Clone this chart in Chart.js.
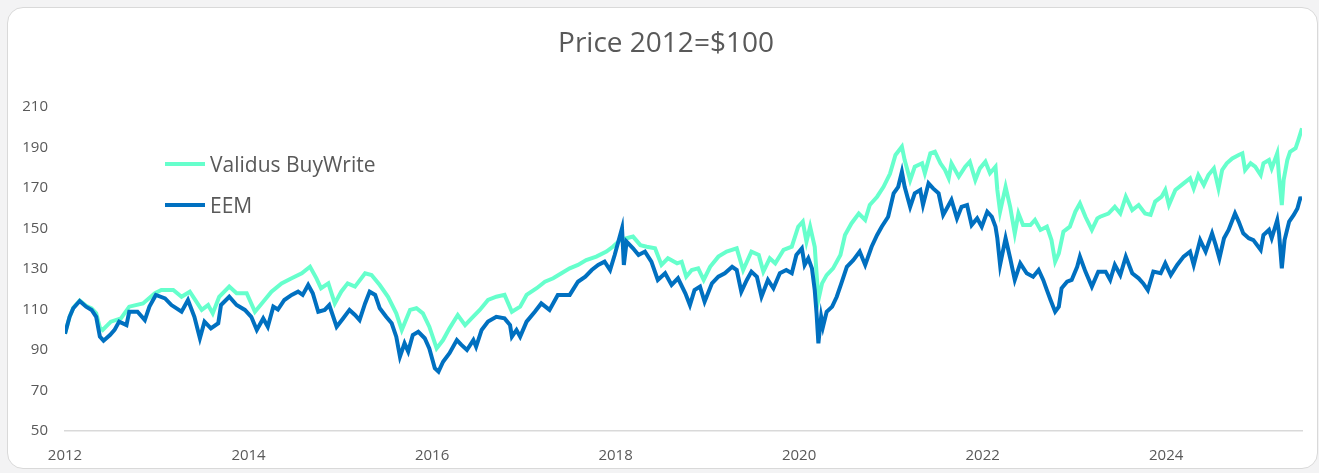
<!DOCTYPE html>
<html>
<head>
<meta charset="utf-8">
<title>Price 2012=$100</title>
<script src="https://cdn.jsdelivr.net/npm/chart.js@4.4.1/dist/chart.umd.min.js"></script>
<style>
  html, body { margin: 0; padding: 0; background: #f3f3f4; }
  #card {
    position: absolute; left: 7px; top: 7px; width: 1311px; height: 462px;
    box-sizing: border-box; border: 1px solid #d9d9d9; border-radius: 16px;
    background: #fff; overflow: hidden;
  }
  #wrap { position: absolute; left: 0; top: 0; width: 1309px; height: 460px; }
</style>
</head>
<body>
<div id="card"><div id="wrap"><canvas id="priceChart"></canvas></div></div>
<script>
// valori (anno decimale, prezzo con base 2012 = 100)
const validusDates = [
  2012.00, 2012.05, 2012.09, 2012.16, 2012.23, 2012.29, 2012.34, 2012.38, 2012.41, 2012.50, 2012.61, 2012.70, 2012.85, 2012.98,
  2013.05, 2013.18, 2013.27, 2013.36, 2013.49, 2013.56, 2013.61, 2013.68, 2013.79, 2013.87, 2013.98,
  2014.07, 2014.16, 2014.25, 2014.36, 2014.47, 2014.58, 2014.67, 2014.74, 2014.79, 2014.87, 2014.94,
  2015.01, 2015.08, 2015.16, 2015.27, 2015.34, 2015.43, 2015.52, 2015.61, 2015.67, 2015.76, 2015.83, 2015.90, 2015.97,
  2016.05, 2016.12, 2016.19, 2016.28, 2016.36, 2016.43, 2016.52, 2016.61, 2016.70, 2016.79, 2016.87, 2016.96,
  2017.03, 2017.14, 2017.23, 2017.32, 2017.41, 2017.50, 2017.59, 2017.68, 2017.79, 2017.90, 2017.97,
  2018.05, 2018.12, 2018.19, 2018.27, 2018.34, 2018.43, 2018.50, 2018.57, 2018.67, 2018.72, 2018.77, 2018.83, 2018.90, 2018.96,
  2019.03, 2019.12, 2019.21, 2019.32, 2019.39, 2019.48, 2019.56, 2019.61, 2019.68, 2019.74, 2019.83, 2019.92, 2019.99,
  2020.04, 2020.08, 2020.12, 2020.17, 2020.21, 2020.25, 2020.30, 2020.37, 2020.45, 2020.50, 2020.57, 2020.65, 2020.72, 2020.77, 2020.85, 2020.92, 2020.99,
  2021.05, 2021.12, 2021.15, 2021.21, 2021.26, 2021.34, 2021.37, 2021.43, 2021.48, 2021.54, 2021.59, 2021.63, 2021.66, 2021.74, 2021.81, 2021.86, 2021.92, 2021.97,
  2022.03, 2022.08, 2022.14, 2022.16, 2022.19, 2022.25, 2022.30, 2022.35, 2022.39, 2022.44, 2022.52, 2022.57, 2022.63, 2022.70, 2022.75, 2022.79, 2022.83, 2022.88, 2022.95,
  2023.01, 2023.06, 2023.12, 2023.19, 2023.25, 2023.28, 2023.37, 2023.44, 2023.50, 2023.56, 2023.63, 2023.70, 2023.77, 2023.83, 2023.88, 2023.95, 2023.99,
  2024.03, 2024.10, 2024.19, 2024.26, 2024.30, 2024.35, 2024.41, 2024.46, 2024.52, 2024.57, 2024.61, 2024.66, 2024.72, 2024.79, 2024.83, 2024.86, 2024.92, 2024.97,
  2025.03, 2025.06, 2025.12, 2025.15, 2025.21, 2025.23, 2025.26, 2025.28, 2025.32, 2025.35, 2025.41, 2025.44, 2025.48
];
const validusValues = [
  98, 106.4, 110.8, 114.4, 111.8, 110.5, 108.2, 101, 99.9, 104, 105.6, 111.4, 113, 118,
  119.6, 119.6, 116.3, 118.8, 109.8, 112.2, 108.1, 116.3, 121.3, 118, 118,
  108.9, 113.8, 118.8, 122.9, 125.4, 127.9, 131.1, 125.4, 120.5, 122.9, 113,
  118.8, 122.9, 121.3, 127.9, 127, 122.1, 116.3, 108.1, 99.9, 109.8, 110.6, 108.1, 101.5,
  90.8, 94.9, 100.7, 107.3, 102.3, 105.6, 109.8, 114.7, 116.3, 117.2, 108.9, 111.4,
  117.2, 120.5, 123.7, 125.4, 127.9, 130.3, 132, 134.4, 136.1, 138.6, 141,
  144.3, 145.2, 146, 141.8, 141, 140.2, 132, 135.3, 132.8, 133.6, 126.2, 129.5, 130.3, 124.6,
  131.1, 136.1, 138.6, 140.2, 129.5, 138.6, 136.9, 128.7, 135.3, 132.8, 139.4, 141, 150.9,
  153.4, 143.5, 150.9, 141, 114.7, 122.9, 127, 130.3, 136.9, 146.8, 152.5, 157.4, 154.2, 161.6, 165.7, 170.6, 177,
  186.3, 190.4, 183.8, 173.9, 180.5, 182.2, 177.3, 187.1, 187.9, 182.2, 178.9, 174.8, 182.2, 175.6, 180.5, 183, 173.9, 179.7,
  183, 177.3, 180.5, 169, 158.3, 170.6, 160.7, 147.6, 157.4, 151.7, 151.7, 154.2, 149.3, 150.9, 144.3, 133.6, 137.7, 148.4, 150.9,
  158.3, 162.4, 155.8, 149.3, 155, 155.8, 157.4, 160.7, 157.4, 165.7, 159.1, 161.6, 157.4, 156.7, 163.3, 165.7, 169,
  161.6, 169, 172.3, 174.8, 169.8, 176.4, 171.5, 176.4, 179.7, 169.8, 178.9, 182.2, 184.6, 186.3, 187.1, 178.9, 182.2, 180.5,
  176.4, 182.2, 183.8, 179.7, 187.1, 175.6, 161.6, 174, 183.8, 187.9, 189.6, 193.7, 199.5
];

const eemDates = [
  2012.00, 2012.05, 2012.09, 2012.16, 2012.23, 2012.29, 2012.34, 2012.38, 2012.42, 2012.49, 2012.54, 2012.59, 2012.67, 2012.70, 2012.79, 2012.87, 2012.92, 2012.99,
  2013.09, 2013.16, 2013.27, 2013.34, 2013.41, 2013.47, 2013.52, 2013.59, 2013.67, 2013.70, 2013.79, 2013.87, 2013.96,
  2014.03, 2014.09, 2014.16, 2014.21, 2014.27, 2014.32, 2014.39, 2014.47, 2014.54, 2014.59, 2014.65, 2014.70, 2014.76, 2014.83, 2014.88, 2014.96,
  2015.03, 2015.10, 2015.16, 2015.21, 2015.27, 2015.32, 2015.38, 2015.43, 2015.50, 2015.56, 2015.61, 2015.65, 2015.70, 2015.74, 2015.79, 2015.85, 2015.92, 2015.97,
  2016.03, 2016.07, 2016.12, 2016.19, 2016.27, 2016.32, 2016.38, 2016.45, 2016.48, 2016.54, 2016.61, 2016.70, 2016.79, 2016.85, 2016.87, 2016.92, 2016.96,
  2017.03, 2017.12, 2017.19, 2017.28, 2017.37, 2017.50, 2017.59, 2017.67, 2017.74, 2017.81, 2017.88, 2017.94, 2017.99,
  2018.04, 2018.07, 2018.09, 2018.12, 2018.19, 2018.25, 2018.32, 2018.39, 2018.46, 2018.54, 2018.61, 2018.68, 2018.76, 2018.81, 2018.86, 2018.92, 2018.97,
  2019.05, 2019.12, 2019.19, 2019.27, 2019.32, 2019.37, 2019.43, 2019.48, 2019.54, 2019.59, 2019.66, 2019.72, 2019.79, 2019.86, 2019.92, 2019.97,
  2020.03, 2020.06, 2020.10, 2020.14, 2020.17, 2020.19, 2020.21, 2020.24, 2020.26, 2020.30, 2020.36, 2020.41, 2020.46, 2020.52, 2020.59, 2020.66, 2020.72, 2020.79, 2020.85, 2020.90, 2020.97,
  2021.03, 2021.08, 2021.12, 2021.15, 2021.21, 2021.26, 2021.32, 2021.35, 2021.41, 2021.46, 2021.52, 2021.57, 2021.63, 2021.66, 2021.72, 2021.77, 2021.83, 2021.88, 2021.94, 2021.99,
  2022.05, 2022.10, 2022.14, 2022.16, 2022.19, 2022.25, 2022.30, 2022.35, 2022.41, 2022.48, 2022.55, 2022.61, 2022.66, 2022.70, 2022.74, 2022.79, 2022.83, 2022.86, 2022.92, 2022.97,
  2023.03, 2023.06, 2023.12, 2023.19, 2023.26, 2023.34, 2023.39, 2023.44, 2023.50, 2023.56, 2023.63, 2023.70, 2023.75, 2023.80, 2023.86, 2023.94, 2023.99,
  2024.05, 2024.12, 2024.19, 2024.26, 2024.30, 2024.37, 2024.43, 2024.50, 2024.54, 2024.58, 2024.63, 2024.68, 2024.75, 2024.79, 2024.84, 2024.90, 2024.95,
  2025.03, 2025.06, 2025.12, 2025.15, 2025.21, 2025.23, 2025.26, 2025.29, 2025.34, 2025.39, 2025.43, 2025.46, 2025.48
];
const eemValues = [
  98, 106.4, 110.6, 114.2, 111.4, 109.8, 106.4, 96.6, 94.6, 97.4, 99.9, 104, 102.3, 108.9, 108.9, 104.8, 111.4, 117.2,
  115.5, 112.2, 108.9, 114.7, 106.4, 95.8, 104, 100.7, 103.2, 112.2, 116.3, 112.2, 109.8,
  106.4, 99.9, 105.6, 101.5, 111.4, 110, 114.7, 117.2, 118.8, 117.2, 122.1, 118, 108.9, 109.8, 112.2, 101.5,
  105.6, 109.8, 107.3, 104.8, 113, 118.8, 117.2, 110.6, 106.4, 103.2, 96.6, 86.7, 93.3, 89.2, 97.4, 99, 95.8, 90.8,
  81, 79.3, 84.2, 88.4, 94.9, 92.5, 90, 94.9, 91.6, 99.9, 104, 106.4, 105.6, 102.3, 96.6, 99.9, 96.6,
  104, 108.9, 113, 109.8, 117.2, 117.2, 123.7, 126.2, 129.5, 132, 133.6, 129.5, 136.9,
  145.2, 150.1, 132, 143.5, 140.2, 136.9, 138.6, 133.6, 124.6, 127.9, 122.1, 125.4, 118, 112.2, 119.6, 121.3, 113.8,
  122.9, 126.2, 127.9, 131.1, 129.5, 118.8, 124.6, 128.7, 126.2, 116.3, 124.6, 120.5, 127.9, 129.5, 127.9, 136.9,
  140.2, 132, 135.3, 130.3, 119.6, 108.1, 93.3, 106.4, 101.5, 108.9, 111.4, 116.3, 122.9, 131.1, 134.4, 138.6, 132, 141, 146.8, 150.9, 155.8,
  167.4, 170.6, 178, 170.6, 160.7, 167.4, 169, 161.6, 172.3, 169.8, 167.4, 156.7, 161.6, 164.1, 155, 160.7, 161.6, 151.7, 155, 150.9,
  158.3, 155.8, 150.9, 145.2, 132, 145.2, 135.3, 124.6, 132.8, 127.9, 126.2, 129.5, 124.6, 119.6, 114.7, 108.9, 111.4, 120.5, 123.7, 124.6,
  131.1, 136.1, 128.7, 121.3, 128.7, 128.7, 124.6, 132, 127, 136.1, 127.9, 125.4, 122.9, 119.6, 128.7, 127.9, 132.8,
  127, 132, 136.1, 138.6, 132, 144.3, 138.6, 147.6, 141.8, 135.3, 145.2, 149.3, 157.4, 153.4, 147.6, 145.2, 144.3,
  139.4, 146.8, 149.3, 145.2, 154.2, 147.6, 130.3, 144.3, 153.4, 156.7, 159.9, 164.9, 165
];

const xTickYears = [2012, 2014, 2016, 2018, 2020, 2022, 2024];
const yTickValues = [50, 70, 90, 110, 130, 150, 170, 190, 210];
const chartTitle = "Price 2012=$100";

const TEXT_COLOR = "#595959";
const FONT = "'Open Sans', 'Noto Sans', sans-serif";

const toPoints = (dates, values) => dates.map((d, i) => ({ x: d, y: values[i] }));

// titolo: il plugin standard lo centra sull'area con padding, qui serve più a destra
const topTitle = {
  id: "topTitle",
  afterDraw(chart) {
    const { ctx } = chart;
    ctx.save();
    ctx.font = "28px " + FONT;
    ctx.fillStyle = TEXT_COLOR;
    ctx.textAlign = "center";
    ctx.textBaseline = "middle";
    ctx.fillText(chartTitle, 658, 36.5);
    ctx.restore();
  },
};

// legenda disegnata dentro l'area del grafico, in alto a sinistra
const innerLegend = {
  id: "innerLegend",
  afterDraw(chart) {
    const { ctx, chartArea } = chart;
    const rows = [
      { ds: chart.data.datasets[0], lineY: 57, textY: 58.7 },
      { ds: chart.data.datasets[1], lineY: 98, textY: 100.3 },
    ];
    ctx.save();
    ctx.font = "21px " + FONT;
    ctx.textBaseline = "middle";
    ctx.fillStyle = TEXT_COLOR;
    rows.forEach(r => {
      ctx.strokeStyle = r.ds.borderColor;
      ctx.lineWidth = 4;
      ctx.beginPath();
      ctx.moveTo(chartArea.left + 100, chartArea.top + r.lineY);
      ctx.lineTo(chartArea.left + 140, chartArea.top + r.lineY);
      ctx.stroke();
      ctx.fillText(r.ds.label, chartArea.left + 145, chartArea.top + r.textY);
    });
    ctx.restore();
  },
};

const ctx = document.getElementById("priceChart").getContext("2d");

new Chart(ctx, {
  type: "line",
  data: {
    datasets: [
      {
        label: "Validus BuyWrite",
        data: toPoints(validusDates, validusValues),
        borderColor: "#66FFCC",
        borderWidth: 4,
        pointRadius: 0,
        tension: 0,
        order: 1,
      },
      {
        label: "EEM",
        data: toPoints(eemDates, eemValues),
        borderColor: "#0070C0",
        borderWidth: 4,
        pointRadius: 0,
        tension: 0,
        order: 0,
      },
    ],
  },
  options: {
    responsive: true,
    maintainAspectRatio: false,
    animation: false,
    layout: { padding: { left: 0, right: 15, top: 99, bottom: 3 } },
    scales: {
      x: {
        type: "linear",
        min: 2012,
        max: 2025.48,
        afterBuildTicks: scale => {
          scale.ticks = xTickYears.map(v => ({ value: v }));
        },
        afterFit: scale => {
          scale.height = 34;
        },
        grid: { display: false, drawTicks: false },
        border: { display: true, color: "#d9d9d9", width: 1.5 },
        ticks: {
          padding: 16,
          color: TEXT_COLOR,
          font: { family: FONT, size: 15 },
          maxRotation: 0,
          callback: v => String(v),
        },
      },
      y: {
        min: 50,
        max: 210,
        afterBuildTicks: scale => {
          scale.ticks = yTickValues.map(v => ({ value: v }));
        },
        afterFit: scale => {
          scale.width = 57;
        },
        grid: { display: false, drawTicks: false },
        border: { display: false },
        ticks: {
          padding: 17,
          color: TEXT_COLOR,
          font: { family: FONT, size: 15 },
        },
      },
    },
    plugins: {
      legend: { display: false },
      tooltip: { enabled: false },
      title: { display: false },
    },
  },
  plugins: [topTitle, innerLegend],
});
</script>
</body>
</html>
